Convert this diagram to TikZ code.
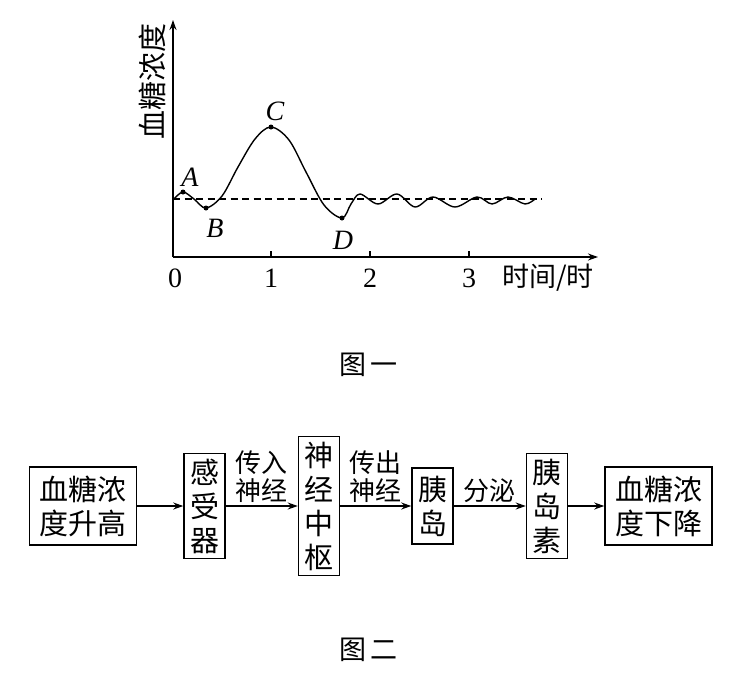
\documentclass[tikz,border=0pt]{standalone}
\usepackage{fontspec}
\setmainfont{Liberation Serif}
\newfontfamily\cjk{Noto Sans CJK SC}
\usetikzlibrary{arrows.meta,positioning}
\tikzset{
  >={Stealth[length=10pt,width=7pt]},
  axis/.style={line width=1.5pt},
  curve/.style={line width=1.4pt},
  dot/.style={circle,fill,inner sep=0pt,minimum size=5pt},
  point label/.style={font=\itshape\fontsize{28}{30}\selectfont},
  tick label/.style={font=\fontsize{28}{30}\selectfont},
  cjk label/.style={font=\cjk\fontsize{27}{30}\selectfont},
  box/.style={draw,line width=1.5pt,inner sep=0pt,align=center,
    font=\cjk\fontsize{29}{34}\selectfont},
  wide box/.style={box,minimum width=107pt,minimum height=78pt},
  tall box/.style={box,minimum width=41pt,minimum height=#1},
  tall box/.default=105pt,
  flow/.style={->,line width=1.4pt},
  flow label/.style={above,inner sep=3pt,align=center,
    font=\cjk\fontsize{26}{28}\selectfont},
}
\begin{document}
\begin{tikzpicture}[x=1pt,y=-1pt]
  \useasboundingbox (0,0) rectangle (730,672);
  % graph one
  \coordinate (O) at (173,257);
  \draw[axis,->] (O) -- (173,20) coordinate (ytop);
  \draw[axis,->] (O) -- (598,257) coordinate (xend);
  \foreach \x/\t in {271/1,370/2,469/3} {
    \draw[axis] (\x,257) -- (\x,251);
    \node[tick label] (tick\t) at (\x,278) {\t};
  }
  \node[tick label] (tick0) at (175,278) {0};
  \node[cjk label] (xlabel) at (548,278) {时间/时};
  \node[cjk label,font=\cjk\fontsize{29}{30}\selectfont,rotate=90] (ylabel) at (152,81) {血糖浓度};
  \draw[axis,dash pattern=on 7pt off 4.5pt] (173,199) -- (542,199);
  \draw[curve] plot[smooth,tension=0.55] coordinates {
    (174,199) (183,192) (194,199) (206,208) (222,196) (238,167) (255,139)
    (271,127) (289,140) (306,172) (324,205) (342,218) (351,204)
    (360,194) (378,204) (397,194) (415,207) (433,197)
    (455,207) (477,197) (492,204) (508,197) (525,204) (535,199)};
  \node[dot] (A) at (183,192) {};
  \node[dot] (B) at (206,208) {};
  \node[dot] (C) at (271,127) {};
  \node[dot] (D) at (342,218) {};
  \node[point label] at (190,177) {A};
  \node[point label] at (215,228) {B};
  \node[point label] at (275,111) {C};
  \node[point label] at (343,240) {D};
  \node[cjk label] (fig1) at (368,365) {图\hspace{4pt}一};
  % graph two
  \node[wide box] (rise) at (83,506) {血糖浓\\度升高};
  \node[tall box,right=46pt of rise] (sensor) {感\\受\\器};
  \node[tall box=139pt,right=72pt of sensor] (center) {神\\经\\中\\枢};
  \node[tall box=76pt,right=71pt of center] (islet) {胰\\岛};
  \node[tall box,right=72pt of islet] (insulin) {胰\\岛\\素};
  \node[wide box,right=36pt of insulin] (fall) {血糖浓\\度下降};
  \draw[flow] (rise) -- (sensor);
  \draw[flow] (sensor) -- node[flow label] {传入\\神经} (center);
  \draw[flow] (center) -- node[flow label] {传出\\神经} (islet);
  \draw[flow] (islet) -- node[flow label] {分泌} (insulin);
  \draw[flow] (insulin) -- (fall);
  \node[cjk label] (fig2) at (368,650) {图\hspace{4pt}二};
\end{tikzpicture}
\end{document}
